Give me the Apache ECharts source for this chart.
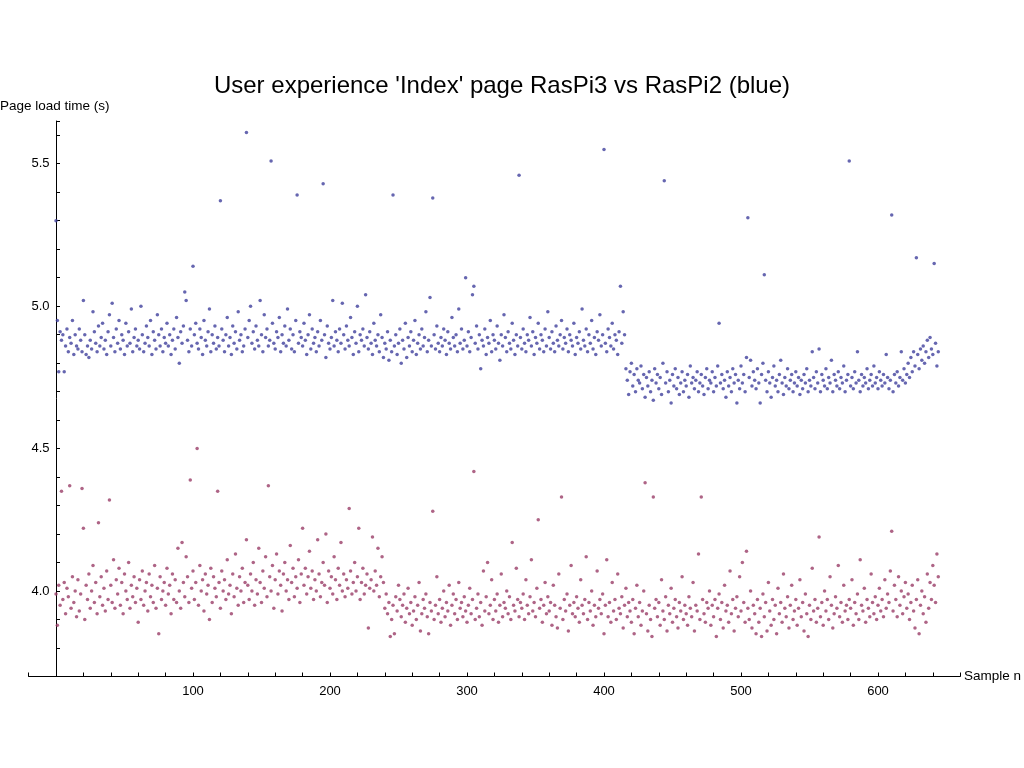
<!DOCTYPE html>
<html><head><meta charset="utf-8">
<script src="https://cdn.jsdelivr.net/npm/echarts@6/dist/echarts.min.js"></script>
<style>html,body{margin:0;padding:0;background:#fff}#c{width:1024px;height:768px}</style>
</head><body><div id="c"></div>
<script>
const titleText = "User experience 'Index' page RasPi3 vs RasPi2 (blue)";
const yName = "Page load time (s)";
const xName = "Sample n";
const raspi2 = [
5.30,4.95,4.77,4.91,4.88,4.90,4.77,4.86,4.92,4.84,4.89,4.87,4.95,4.83,4.90,4.86,4.85,4.92,4.88,4.84,
5.02,4.90,4.83,4.86,4.82,4.88,4.85,4.98,4.91,4.87,4.84,4.93,4.86,4.89,4.94,4.85,4.88,4.83,4.91,4.97,
4.86,5.01,4.89,4.84,4.92,4.87,4.95,4.85,4.90,4.88,4.83,4.94,4.86,4.91,4.87,4.99,4.84,4.89,4.92,4.86,
4.88,4.85,5.00,4.90,4.84,4.87,4.93,4.89,4.86,4.95,4.83,4.91,4.88,4.85,4.97,4.90,4.86,4.92,4.84,4.89,
4.87,4.94,4.86,4.90,4.83,4.88,4.92,4.85,4.96,4.89,4.80,4.91,4.87,4.93,5.05,5.02,4.88,4.84,4.92,4.86,
5.14,4.90,4.94,4.87,4.85,4.92,4.89,4.83,4.95,4.88,4.86,4.91,4.99,4.84,4.90,4.87,4.93,4.85,4.89,4.86,
5.37,4.92,4.88,4.84,4.90,4.96,4.86,4.89,4.83,4.93,4.87,4.91,4.85,4.98,4.88,4.90,4.84,4.86,4.92,5.61,
4.89,4.95,5.00,4.87,4.91,4.85,4.93,4.88,4.86,5.02,4.90,4.84,4.97,4.89,4.92,4.86,4.88,5.51,4.94,4.87,
4.85,4.91,4.89,4.96,4.84,4.90,4.87,4.93,4.86,4.99,4.88,4.92,4.85,4.90,4.84,4.95,5.39,4.87,4.91,4.89,
4.86,4.94,4.88,4.83,4.90,4.97,4.85,4.92,4.87,4.89,4.84,4.91,4.86,4.95,4.88,5.43,4.90,4.82,4.93,4.87,
4.85,4.89,5.02,4.86,4.91,4.88,4.84,4.92,4.87,5.01,4.90,4.85,4.93,4.88,4.86,4.96,4.89,4.83,4.91,4.87,
5.00,4.84,4.90,4.88,4.92,4.86,5.04,4.89,4.85,4.91,4.87,4.83,4.94,4.88,4.86,4.90,4.84,4.97,4.89,4.82,
4.87,4.85,4.91,4.81,4.88,4.84,5.39,4.86,4.90,4.83,4.87,4.92,4.80,4.88,4.85,4.94,4.82,4.89,4.86,4.91,
4.84,4.88,4.95,4.83,4.87,4.90,4.85,4.92,4.86,4.89,4.98,4.84,4.88,5.03,4.86,5.38,4.90,4.85,4.93,4.87,
4.84,4.89,4.86,4.92,4.88,4.83,4.91,4.87,4.85,4.96,4.89,4.86,4.90,4.84,4.99,4.87,4.92,4.85,4.88,5.10,
4.86,4.91,4.84,4.89,5.04,5.07,4.87,4.93,4.85,4.90,4.78,4.88,4.86,4.92,4.83,4.89,4.87,4.95,4.84,4.90,
4.88,4.85,4.93,4.87,4.81,4.90,4.86,4.97,4.89,4.84,4.91,4.87,4.85,4.94,4.88,4.83,4.90,4.86,5.46,4.89,
4.85,4.92,4.87,4.84,4.90,4.88,4.96,4.86,4.91,4.83,4.89,4.87,4.94,4.85,4.90,4.88,4.84,4.92,4.86,4.98,
4.89,4.85,4.91,4.87,4.84,4.93,4.88,4.86,4.90,4.95,4.85,4.89,4.87,4.92,4.84,4.90,4.88,4.86,4.94,4.83,
4.89,4.87,4.91,4.85,4.99,4.88,4.86,4.92,4.84,4.90,4.87,4.95,4.85,4.89,4.83,4.91,4.88,4.97,4.86,4.90,
5.55,4.87,4.84,4.92,4.89,4.86,4.94,4.85,4.90,4.88,4.83,4.91,5.07,4.87,4.98,4.90,4.78,4.74,4.69,4.77,
4.80,4.72,4.76,4.70,4.78,4.74,4.73,4.79,4.71,4.76,4.68,4.75,4.72,4.77,4.70,4.74,4.67,4.78,4.73,4.76,
4.71,4.75,4.69,4.80,5.44,4.73,4.77,4.70,4.74,4.66,4.76,4.72,4.78,4.71,4.75,4.69,4.73,4.77,4.70,4.74,
4.72,4.76,4.68,4.79,4.73,4.75,4.71,4.74,4.77,4.70,4.73,4.76,4.72,4.69,4.75,4.78,4.71,4.74,4.73,4.77,
4.70,4.75,4.72,4.79,4.94,4.73,4.76,4.71,4.74,4.68,4.77,4.72,4.75,4.70,4.78,4.73,4.76,4.66,4.74,4.71,
4.79,4.73,4.76,4.70,4.82,5.31,4.75,4.81,4.72,4.77,4.74,4.71,4.78,4.73,4.66,4.76,4.80,5.11,4.74,4.70,
4.77,4.73,4.68,4.75,4.79,4.72,4.74,4.70,4.76,4.81,4.73,4.69,4.75,4.72,4.78,4.71,4.74,4.76,4.70,4.73,
4.77,4.72,4.75,4.69,4.74,4.71,4.76,4.73,4.78,4.70,4.74,4.72,4.84,4.75,4.71,4.77,4.73,4.85,4.70,4.76,
4.74,4.72,4.78,4.71,4.75,4.73,4.81,4.70,4.76,4.74,4.72,4.77,4.71,4.75,4.73,4.79,4.70,4.74,4.76,5.51,
4.72,4.75,4.71,4.77,4.73,4.84,4.74,4.70,4.76,4.72,4.75,4.73,4.78,4.71,4.74,4.76,4.72,4.79,4.73,4.75,
4.71,4.77,4.74,4.72,4.76,4.73,4.83,4.75,4.71,4.74,5.32,4.70,4.76,4.73,4.77,4.72,4.75,4.84,4.74,4.78,
4.73,4.76,4.80,4.75,4.82,4.77,4.84,4.79,5.17,4.83,4.78,4.85,4.81,4.86,4.80,4.84,4.88,4.82,4.89,4.85,
4.83,5.15,4.87,4.79,4.84
];
const raspi3 = [
3.99,3.88,4.02,3.95,4.35,3.97,4.03,3.92,4.01,3.98,4.37,3.94,4.05,3.96,4.00,3.91,4.04,3.93,3.99,4.36,
4.22,3.90,4.02,3.97,4.06,3.94,4.00,4.09,3.96,4.03,3.92,4.24,3.98,4.05,3.95,4.01,3.93,4.07,3.97,4.32,
4.02,3.96,4.11,3.94,4.04,3.99,4.08,3.95,4.03,3.92,4.06,4.00,3.97,4.10,3.94,4.02,3.98,4.05,3.96,4.01,
3.89,4.04,3.97,4.07,3.95,4.00,4.03,3.93,4.06,3.98,4.02,3.96,4.09,3.94,4.01,3.85,4.05,3.97,4.00,4.03,
3.95,4.08,3.99,4.02,3.92,4.06,3.97,4.04,3.96,4.15,4.00,3.94,4.17,4.03,3.98,4.12,4.05,3.96,4.39,4.01,
4.07,3.97,4.03,4.50,3.95,4.09,4.00,4.04,3.93,4.06,3.99,4.02,3.90,4.08,3.96,4.05,4.01,3.98,4.35,4.03,
3.94,4.07,4.00,4.04,3.97,4.11,3.99,4.02,3.92,4.06,3.98,4.13,4.01,3.95,4.05,4.00,4.08,3.96,4.03,4.18,
4.02,3.97,4.06,4.00,4.10,3.95,4.04,3.99,4.15,4.03,3.96,4.07,4.01,4.12,3.98,4.37,4.05,4.00,4.09,3.94,
4.04,4.13,3.99,4.07,4.02,3.93,4.06,4.10,4.00,4.04,3.97,4.16,4.03,4.08,3.98,4.05,4.01,4.11,3.96,4.06,
4.22,4.02,4.08,3.99,4.05,4.14,4.01,4.07,3.97,4.04,4.00,4.18,4.06,3.98,4.03,4.10,4.02,4.20,3.96,4.07,
4.01,4.05,3.99,4.12,4.04,3.97,4.08,4.02,4.17,4.00,4.06,3.98,4.04,4.01,4.29,4.07,3.99,4.03,4.10,4.00,
4.05,4.22,3.97,4.03,4.08,3.99,4.02,4.06,3.87,4.01,4.04,4.19,4.00,4.07,4.02,4.15,3.98,4.05,4.12,4.03,
3.94,3.99,3.92,3.96,3.84,3.90,3.95,3.85,3.98,3.93,4.02,3.97,3.91,3.95,3.99,3.89,3.94,4.01,3.92,3.96,
3.88,3.93,3.98,3.90,3.95,4.03,3.86,3.92,3.97,3.94,3.99,3.91,3.85,3.96,3.93,4.28,3.90,3.95,4.05,3.92,
3.97,3.89,3.94,4.00,3.91,3.96,3.93,4.02,3.88,3.95,3.99,3.92,3.97,3.90,4.03,3.94,3.96,3.91,3.98,3.93,
3.89,3.95,4.01,3.92,3.97,4.42,3.90,3.94,3.99,3.91,3.96,3.88,4.07,3.93,3.98,4.10,3.92,3.95,4.04,3.90,
3.97,3.93,3.99,3.89,3.95,4.06,3.91,3.96,3.94,4.00,3.92,3.98,3.90,4.17,3.95,3.93,4.08,3.97,3.91,3.96,
3.94,3.99,3.90,4.04,3.95,3.92,3.98,4.11,3.93,3.96,3.91,4.01,4.25,3.94,3.97,3.89,3.95,4.03,3.92,3.98,
3.93,3.96,3.88,4.02,3.95,3.91,3.87,4.06,3.94,4.33,3.90,3.97,3.93,3.99,3.86,3.95,4.09,3.92,3.96,3.91,
3.98,3.94,3.89,4.04,3.95,3.92,3.97,4.12,3.90,3.96,3.93,4.00,3.88,3.95,3.91,4.07,3.94,3.97,3.92,3.99,
3.85,3.95,4.11,3.91,3.96,3.89,4.03,3.93,3.97,3.90,4.06,3.94,3.92,3.98,3.87,3.95,4.01,3.91,3.96,3.93,
3.89,3.97,3.85,3.94,4.02,3.91,3.96,3.88,3.93,4.00,4.38,3.92,3.86,3.95,3.90,3.84,4.33,3.94,3.97,3.91,
3.96,3.88,4.04,3.93,3.90,3.98,3.86,3.95,3.92,4.01,3.89,3.94,3.97,3.91,3.87,3.96,3.93,4.05,3.90,3.95,
3.92,3.88,3.98,3.94,3.91,4.03,3.86,3.95,3.93,4.13,3.90,4.33,3.97,3.92,3.89,3.96,3.94,4.00,3.88,3.95,
3.91,3.97,3.84,3.94,3.99,3.90,3.96,3.87,4.02,3.93,3.95,3.89,4.07,3.92,3.97,3.86,3.94,3.98,3.91,4.05,
3.93,4.10,3.96,3.89,4.14,3.94,3.90,4.00,3.87,3.95,3.92,3.85,3.97,3.89,3.94,3.84,3.99,3.91,3.96,3.86,
4.03,3.93,3.88,3.97,3.90,3.95,3.85,4.01,3.92,3.96,3.89,4.06,3.94,3.91,3.98,3.87,3.95,4.02,3.90,3.93,
3.97,3.88,3.94,4.04,3.91,3.96,3.86,3.99,3.92,3.84,3.95,3.90,4.08,3.93,3.97,3.89,3.94,4.19,3.91,3.96,
3.88,4.00,3.93,3.97,3.90,4.05,3.95,3.87,3.92,3.98,3.94,4.09,3.91,3.96,3.89,4.02,3.93,3.95,3.90,3.97,
3.94,4.04,3.88,3.96,3.92,3.99,3.90,4.11,3.95,3.93,4.01,3.89,3.97,3.94,3.91,4.06,3.96,3.92,3.98,3.90,
3.95,4.01,3.93,3.97,3.91,4.04,3.94,3.99,3.96,4.07,4.21,3.93,4.02,3.97,3.91,4.05,3.95,4.00,3.92,3.98,
4.03,3.94,3.99,3.90,3.96,4.02,3.93,3.87,3.97,4.04,3.85,3.95,4.00,3.92,3.98,3.89,4.06,3.94,4.03,3.97,
4.09,4.02,3.96,4.13,4.05
];
const chart = echarts.init(document.getElementById('c'));
const F = 'Liberation Sans, Arial, sans-serif';
chart.setOption({
  animation: false,
  title: { text: titleText, left: 497, top: 69, textAlign: 'center',
    textStyle: { fontFamily: F, fontSize: 24, fontWeight: 'normal', color: '#000' } },
  graphic: [
    { type: 'text', left: 0, top: 99, style: { text: yName, font: '13.5px ' + F, fill: '#000' } },
    { type: 'text', left: 964, top: 669, style: { text: xName, font: '13.5px ' + F, fill: '#000' } }
  ],
  grid: { left: 28.6, right: 63.8, top: 121, bottom: 91.5 },
  xAxis: { type: 'value', min: -20, max: 660, interval: 20,
    axisLine: { lineStyle: { color: '#000' } },
    axisTick: { inside: true, length: 4, lineStyle: { color: '#000' } },
    splitLine: { show: false },
    axisLabel: { color: '#000', fontFamily: F, fontSize: 13, margin: 8,
      formatter: v => (v > 0 && v % 100 === 0) ? String(v) : '' } },
  yAxis: { type: 'value', min: 3.7, max: 5.65, interval: 0.1,
    axisLine: { show: true, onZero: true, lineStyle: { color: '#000' } },
    axisTick: { show: true, inside: true, length: 4, lineStyle: { color: '#000' } },
    splitLine: { show: false },
    axisLabel: { color: '#000', fontFamily: F, fontSize: 13, margin: -21,
      formatter: v => Math.abs(v * 2 - Math.round(v * 2)) < 1e-6 ? v.toFixed(1) : '' } },
  series: [
    { type: 'scatter', symbolSize: 3.5, itemStyle: { color: '#40409c' },
      data: raspi2.map((v, i) => [i, v]) },
    { type: 'scatter', symbolSize: 3.5, itemStyle: { color: '#9a3d68' },
      data: raspi3.map((v, i) => [i, v]) }
  ]
});
</script></body></html>
